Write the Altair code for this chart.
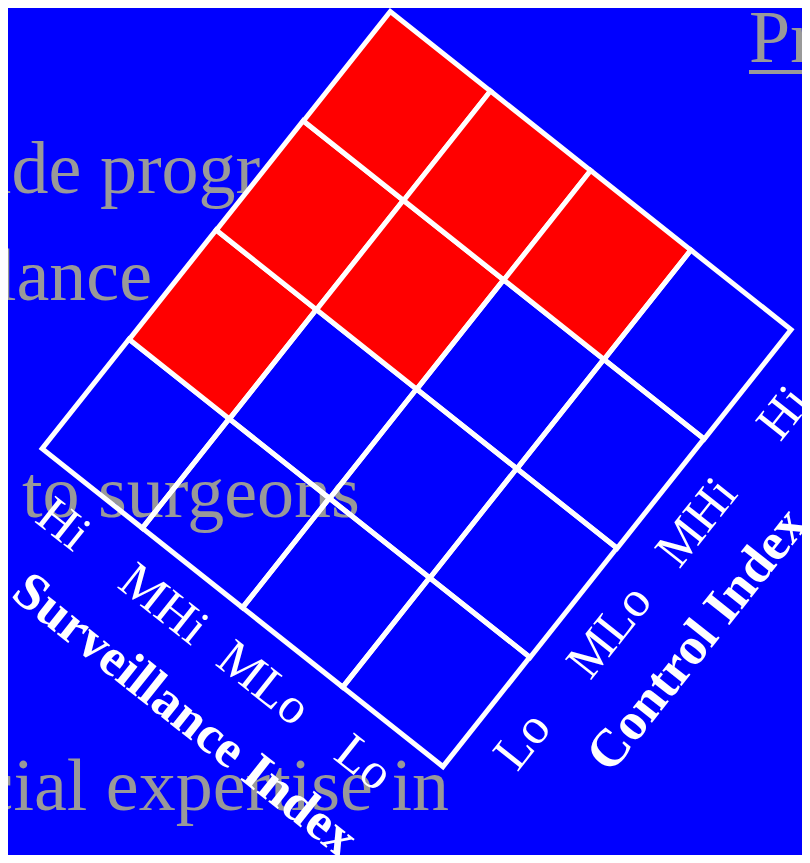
import math
import altair as alt
import pandas as pd

# ---------------- data ----------------
surveillance_levels = ["Hi", "MHi", "MLo", "Lo"]
control_levels = ["Lo", "MLo", "MHi", "Hi"]
flagged_cells = [("Hi", "MLo"), ("Hi", "MHi"), ("Hi", "Hi"),
                 ("MHi", "MHi"), ("MHi", "Hi"), ("MLo", "Hi")]
axis_titles = ["Surveillance Index", "Control Index"]
backdrop_text = ["Pr", "ide progr", "lance", "to surgeons", "cial expertise in"]

# ---------------- layout (page pixels) ----------------
W, H, PAGE = 794, 847, 8
OX, OY = 42.0, 448.5          # corner: Hi surveillance / Lo control
UX, UY = 100.2, 79.5          # one cell along the surveillance edge
VX, VY = 87.1, -109.2         # one cell along the control edge
ULEN, VLEN = math.hypot(UX, UY), math.hypot(VX, VY)
ux, uy = UX / ULEN, UY / ULEN
vx, vy = VX / VLEN, VY / VLEN
BX, BY = OX + 4 * UX, OY + 4 * UY  # bottom corner
ANG_S = math.degrees(math.atan2(UY, UX))
ANG_C = ANG_S + 270
LABEL_OFF = 47
TITLE_OFF = 120
TITLE_SHIFT = 22
RECT = "M-1,-{a:.4f}L1,-{a:.4f}L1,{a:.4f}L-1,{a:.4f}Z".format(a=VLEN / ULEN)
GRAY = "#999999"
SERIF = "Liberation Serif"

backdrop_layout = [  # x, baseline y, anchor
    (749, 62, "left"),
    (-9, 193, "left"),
    (152, 300, "right"),
    (22, 516.5, "left"),
    (449, 810, "right"),
]

xs = alt.Scale(domain=[PAGE, PAGE + W], range=[0, W], nice=False, zero=False)
ys = alt.Scale(domain=[PAGE, PAGE + H], range=[0, H], nice=False, zero=False)
X = alt.X("px:Q", scale=xs, axis=None)
Y = alt.Y("py:Q", scale=ys, axis=None)

# ---------------- tables ----------------
cells_df = pd.DataFrame([
    {"surveillance": s, "control": c, "si": i, "ci": j,
     "risk": "flagged" if (s, c) in flagged_cells else "clear"}
    for i, s in enumerate(surveillance_levels)
    for j, c in enumerate(control_levels)
])
surv_df = pd.DataFrame({"text": surveillance_levels, "idx": range(4)})
ctrl_df = pd.DataFrame({"text": control_levels, "idx": range(4)})
back_df = pd.DataFrame({
    "text": backdrop_text,
    "px": [p[0] for p in backdrop_layout],
    "py": [p[1] for p in backdrop_layout],
    "anchor": [p[2] for p in backdrop_layout],
    "underline": [True, False, False, False, False],
})

# ---------------- layers ----------------
back_left = alt.Chart(back_df).transform_filter("datum.anchor == 'left'").mark_text(
    align="left", baseline="alphabetic", font=SERIF, fontSize=74, color=GRAY
).encode(x=X, y=Y, text="text:N")
back_right = alt.Chart(back_df).transform_filter("datum.anchor == 'right'").mark_text(
    align="right", baseline="alphabetic", font=SERIF, fontSize=74, color=GRAY
).encode(x=X, y=Y, text="text:N")
underline = alt.Chart(back_df).transform_filter("datum.underline").transform_calculate(
    uy="datum.py + 10", ux2="datum.px + 100"
).mark_rule(color=GRAY, strokeWidth=4).encode(
    x=X, x2="ux2:Q", y=alt.Y("uy:Q", scale=ys, axis=None)
)

cells = alt.Chart(cells_df).transform_calculate(
    px=f"{OX} + (datum.si + 0.5) * {UX} + (datum.ci + 0.5) * {VX}",
    py=f"{OY} + (datum.si + 0.5) * {UY} + (datum.ci + 0.5) * {VY}",
).mark_point(
    shape=RECT, filled=True, size=ULEN * ULEN, angle=ANG_S,
    stroke="white", strokeWidth=5, opacity=1, strokeOpacity=1
).encode(
    x=X, y=Y,
    fill=alt.Fill("risk:N", scale=alt.Scale(domain=["flagged", "clear"],
                                             range=["#FF0000", "rgba(0,0,0,0)"]),
                  legend=None),
)

surv_labels = alt.Chart(surv_df).transform_calculate(
    px=f"{OX} + (datum.idx + 0.5) * {UX} + {LABEL_OFF} * {-uy}",
    py=f"{OY} + (datum.idx + 0.5) * {UY} + {LABEL_OFF} * {ux}",
).mark_text(align="center", baseline="middle", font=SERIF, fontSize=51,
            color="white", angle=ANG_S).encode(x=X, y=Y, text="text:N")

ctrl_labels = alt.Chart(ctrl_df).transform_calculate(
    px=f"{BX} + (datum.idx + 0.5) * {VX} + {LABEL_OFF} * {ux}",
    py=f"{BY} + (datum.idx + 0.5) * {VY} + {LABEL_OFF} * {uy}",
).mark_text(align="center", baseline="middle", font=SERIF, fontSize=51,
            color="white", angle=ANG_C).encode(x=X, y=Y, text="text:N")

title_s = alt.Chart(pd.DataFrame({"text": [axis_titles[0]]})).transform_calculate(
    px=f"{OX} + 2 * {UX} + {TITLE_OFF} * {-uy} + {TITLE_SHIFT} * {ux}",
    py=f"{OY} + 2 * {UY} + {TITLE_OFF} * {ux} + {TITLE_SHIFT} * {uy}",
).mark_text(align="center", baseline="middle", font=SERIF, fontSize=53,
            fontWeight="bold", color="white", angle=ANG_S).encode(x=X, y=Y, text="text:N")

title_c = alt.Chart(pd.DataFrame({"text": [axis_titles[1]]})).transform_calculate(
    px=f"{BX} + 2 * {VX} + {TITLE_OFF} * {ux} - {TITLE_SHIFT} * {vx}",
    py=f"{BY} + 2 * {VY} + {TITLE_OFF} * {uy} - {TITLE_SHIFT} * {vy}",
).mark_text(align="center", baseline="middle", font=SERIF, fontSize=53,
            fontWeight="bold", color="white", angle=ANG_C).encode(x=X, y=Y, text="text:N")

chart = alt.layer(
    back_left, back_right, underline, cells, surv_labels, ctrl_labels, title_s, title_c
).properties(
    width=W, height=H, background="#0000FF", padding=0,
    autosize=alt.AutoSizeParams(type="none"),
).configure_view(stroke=None)

chart.save("out.html", embed_options={"renderer": "svg", "actions": False})
